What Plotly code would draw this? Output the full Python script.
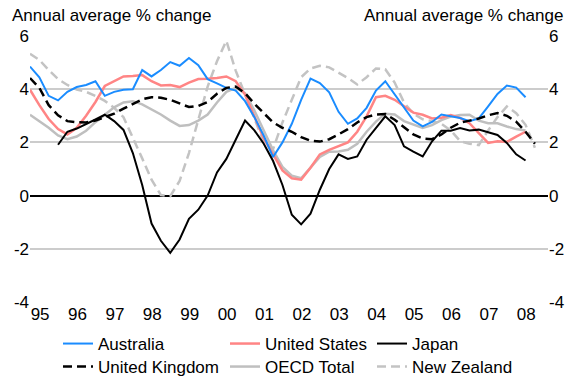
import plotly.graph_objects as go

# Quarterly observations, 1995 Q1 onwards
start_year = 1995
year_labels = ["95", "96", "97", "98", "99", "00", "01", "02", "03", "04", "05", "06", "07", "08"]

australia = [4.85, 4.45, 3.75, 3.58, 3.9, 4.08, 4.16, 4.3, 3.75, 3.9, 3.98, 4.0, 4.72, 4.48,
             4.72, 5.02, 4.88, 5.17, 4.9, 4.38, 4.22, 4.05, 3.95, 3.55, 2.95, 2.25, 1.45, 2.0,
             2.7, 3.6, 4.4, 4.23, 3.88, 3.15, 2.7, 2.9, 3.3, 3.95, 4.3, 3.8, 3.3, 2.82, 2.6,
             2.77, 3.05, 2.98, 2.92, 2.8, 2.9, 3.35, 3.82, 4.14, 4.06, 3.7]

united_states = [3.98, 3.4, 2.88, 2.5, 2.3, 2.55, 3.0, 3.52, 4.12, 4.3, 4.48, 4.5, 4.53, 4.3,
                 4.14, 4.16, 4.08, 4.25, 4.38, 4.39, 4.42, 4.48, 4.3, 3.8, 3.0, 2.15, 1.55, 0.95,
                 0.65, 0.6, 1.05, 1.55, 1.72, 1.85, 2.0, 2.4, 2.98, 3.7, 3.75, 3.6, 3.35, 3.12,
                 3.04, 2.9, 2.93, 3.03, 2.92, 2.72, 2.35, 1.98, 2.04, 2.02, 2.22, 2.4]

japan = [None, None, None, 1.91, 2.4, 2.52, 2.68, 2.86, 3.04, 2.8, 2.47, 1.6, 0.4, -1.05,
         -1.7, -2.15, -1.65, -0.87, -0.53, 0.0, 0.87, 1.38, 2.1, 2.82, 2.45, 1.95, 1.3, 0.4,
         -0.72, -1.08, -0.68, 0.22, 1.0, 1.55, 1.38, 1.47, 2.1, 2.55, 2.98, 2.65, 1.85, 1.65,
         1.47, 2.04, 2.44, 2.44, 2.54, 2.45, 2.48, 2.38, 2.28, 1.98, 1.55, 1.32]

united_kingdom = [4.42, 4.05, 3.4, 3.02, 2.8, 2.76, 2.75, 2.82, 2.95, 3.08, 3.27, 3.45, 3.62,
                  3.7, 3.68, 3.6, 3.45, 3.33, 3.37, 3.52, 3.83, 4.05, 4.1, 3.85, 3.45, 3.1,
                  2.75, 2.55, 2.4, 2.2, 2.06, 2.03, 2.12, 2.3, 2.5, 2.75, 2.95, 3.05, 3.07,
                  2.85, 2.56, 2.3, 2.15, 2.12, 2.3, 2.55, 2.74, 2.83, 2.9, 3.02, 3.1, 3.0,
                  2.78, 2.4, 1.95]

oecd_total = [3.04, 2.8, 2.55, 2.26, 2.12, 2.22, 2.44, 2.76, 3.05, 3.32, 3.5, 3.55, 3.43, 3.25,
              3.05, 2.82, 2.62, 2.65, 2.82, 3.05, 3.5, 3.9, 4.05, 3.85, 3.2, 2.45, 1.7, 1.08,
              0.75, 0.65, 1.05, 1.45, 1.65, 1.66, 1.72, 1.95, 2.4, 2.78, 3.08, 3.05, 2.8, 2.66,
              2.54, 2.65, 2.84, 2.97, 3.03, 3.04, 2.82, 2.72, 2.72, 2.6, 2.5, 2.45]

new_zealand = [5.33, 5.1, 4.72, 4.38, 4.16, 3.99, 3.9, 3.75, 3.56, 3.3, 2.95, 2.2, 1.4, 0.6,
               0.02, -0.02, 0.55, 1.6, 2.8, 4.1, 5.05, 5.82, 4.7, 3.8, 2.85, 2.0, 1.75, 2.75,
               3.6, 4.45, 4.78, 4.88, 4.82, 4.63, 4.42, 4.18, 4.45, 4.78, 4.75, 4.25, 3.5, 3.08,
               2.87, 2.8, 2.7, 2.45, 2.05, 1.95, 1.9, 2.45, 2.95, 3.35, 3.1, 2.66, 1.8]

y_ticks = [6, 4, 2, 0, -2, -4]

FONT = "Liberation Sans, Arial, sans-serif"
FS = 17
W, H = 570, 381


def quarters(values):
    return [start_year + i / 4 for i in range(len(values))]


series = [
    # name, values, colour, width, dash, legend slot
    ("New Zealand", new_zealand, "#c3c3c3", 2.5, "9px,5px", "legend6"),
    ("OECD Total", oecd_total, "#bfbfbf", 2.5, "solid", "legend5"),
    ("United States", united_states, "#ff8585", 2.5, "solid", "legend2"),
    ("Australia", australia, "#1a8cff", 2.0, "solid", "legend"),
    ("United Kingdom", united_kingdom, "#000000", 2.5, "9px,5px", "legend4"),
    ("Japan", japan, "#000000", 2.0, "solid", "legend3"),
]

fig = go.Figure()
for name, vals, colour, width, dash, leg in series:
    fig.add_trace(go.Scatter(
        x=quarters(vals), y=vals, name=name, mode="lines",
        line=dict(color=colour, width=width, dash=dash),
        legend=leg, hoverinfo="skip",
    ))

# invisible trace so the right-hand axis is drawn
fig.add_trace(go.Scatter(x=[start_year, start_year + 1], y=[0, 0], yaxis="y2", mode="lines",
                         showlegend=False, hoverinfo="skip",
                         line=dict(color="rgba(0,0,0,0)")))

tick_font = dict(family=FONT, size=FS, color="#000000")

# legend slots: column left edges and row centres (pixels)
cols = [63, 230, 377]
rows = [344, 367]
slots = ["legend", "legend2", "legend3", "legend4", "legend5", "legend6"]
legend_layout = {}
for k, slot in enumerate(slots):
    cx = cols[k % 3]
    cy = rows[k // 3]
    legend_layout[slot] = dict(
        x=(cx - 5) / W, y=1 - cy / H, xref="container", yref="container",
        xanchor="left", yanchor="middle", orientation="v",
        font=dict(family=FONT, size=FS, color="#000000"),
        bgcolor="rgba(0,0,0,0)", borderwidth=0,
        itemclick=False, itemdoubleclick=False,
    )

x_range = [start_year, start_year + 518 / 37.4]

fig.update_layout(
    width=W, height=H,
    margin=dict(l=30, r=22, t=36, b=79, autoexpand=False),
    plot_bgcolor="white", paper_bgcolor="white",
    font=dict(family=FONT, size=FS, color="#000000"),
    xaxis=dict(
        range=x_range, showgrid=False, zeroline=False, showline=False,
        tickmode="array",
        tickvals=[start_year + i + 0.27 for i in range(len(year_labels))],
        ticktext=year_labels, ticks="", tickfont=tick_font,
    ),
    yaxis=dict(
        range=[-4, 6], tickmode="array", tickvals=y_ticks,
        ticktext=[str(v) for v in y_ticks], ticks="", tickfont=tick_font,
        showgrid=True, gridcolor="#cccccc", gridwidth=1.5,
        zeroline=True, zerolinecolor="#000000", zerolinewidth=1.5,
        showline=False,
    ),
    yaxis2=dict(
        range=[-4, 6], overlaying="y", side="right", tickmode="array",
        tickvals=y_ticks, ticktext=[str(v) for v in y_ticks], ticks="",
        tickfont=tick_font, showgrid=False, zeroline=False, showline=False,
    ),
    showlegend=True,
    annotations=[
        dict(text="Annual average % change", xref="paper", yref="paper",
             x=-20 / 518, y=1, xanchor="left", yanchor="bottom", yshift=9,
             showarrow=False, font=dict(family=FONT, size=FS, color="#000000")),
        dict(text="Annual average % change", xref="paper", yref="paper",
             x=1 + 17 / 518, y=1, xanchor="right", yanchor="bottom", yshift=9,
             showarrow=False, font=dict(family=FONT, size=FS, color="#000000")),
    ],
    **legend_layout,
)

fig.write_html("out.html")
